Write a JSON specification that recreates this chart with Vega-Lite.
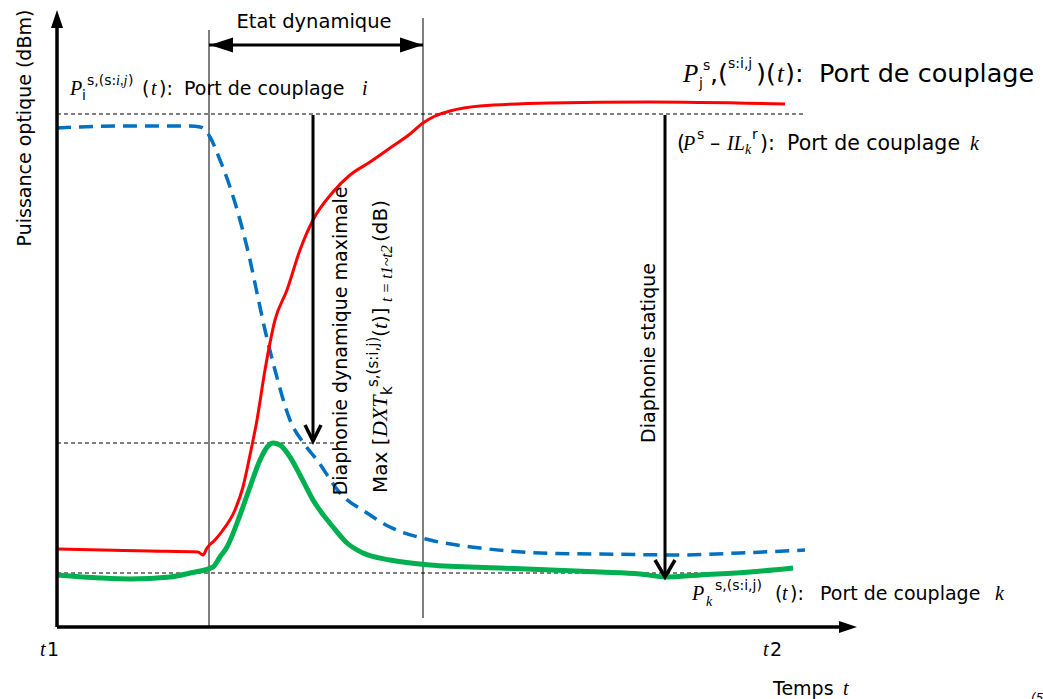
{
 "$schema": "https://vega.github.io/schema/vega-lite/v6.json",
 "width": 1043, "height": 699, "padding": 0, "autosize": {"type": "none"},
 "background": "white",
 "config": {"view": {"stroke": null}},
 "datasets": {
  "refs_dashed": [
   {"x": 0, "y": 513, "x2": 746, "y2": 513},
   {"x": 0, "y": 184, "x2": 283, "y2": 184},
   {"x": 0, "y": 54, "x2": 653, "y2": 54}
  ],
  "refs_thin": [
   {"x": 152, "y": 0, "x2": 152, "y2": 597},
   {"x": 366, "y": 9, "x2": 366, "y2": 609}
  ],
  "axes": [
   {"x": 0, "y": 0, "x2": 0, "y2": 608},
   {"x": 0, "y": 0, "x2": 791, "y2": 0}
  ],
  "shafts": [
   {"x": 256, "y": 512, "x2": 256, "y2": 188},
   {"x": 608, "y": 512, "x2": 608, "y2": 51},
   {"x": 152, "y": 582, "x2": 366, "y2": 582}
  ],
  "head_up": [{"x": 0, "y": 608}],
  "head_right": [{"x": 791, "y": 0}],
  "head_left_small": [{"x": 164.5, "y": 582}],
  "head_right_small": [{"x": 354.5, "y": 582}],
  "chevrons": [
   {"id": "a", "x": 248, "y": 202}, {"id": "a", "x": 256, "y": 186}, {"id": "a", "x": 264, "y": 202},
   {"id": "b", "x": 598, "y": 67}, {"id": "b", "x": 608, "y": 50}, {"id": "b", "x": 618, "y": 67}
  ],
  "curves": [
   {"series": "blue", "x": 0, "y": 499}, {"series": "blue", "x": 63, "y": 501}, {"series": "blue", "x": 133, "y": 501},
   {"series": "blue", "x": 143, "y": 500}, {"series": "blue", "x": 148, "y": 497}, {"series": "blue", "x": 153, "y": 490},
   {"series": "blue", "x": 163, "y": 467}, {"series": "blue", "x": 173, "y": 440}, {"series": "blue", "x": 183, "y": 407},
   {"series": "blue", "x": 193, "y": 367}, {"series": "blue", "x": 200, "y": 334}, {"series": "blue", "x": 208, "y": 297},
   {"series": "blue", "x": 218, "y": 257}, {"series": "blue", "x": 233, "y": 207}, {"series": "blue", "x": 248, "y": 182},
   {"series": "blue", "x": 260, "y": 167}, {"series": "blue", "x": 283, "y": 134}, {"series": "blue", "x": 310, "y": 114},
   {"series": "blue", "x": 333, "y": 100}, {"series": "blue", "x": 373, "y": 87}, {"series": "blue", "x": 423, "y": 79},
   {"series": "blue", "x": 483, "y": 74}, {"series": "blue", "x": 543, "y": 73}, {"series": "blue", "x": 623, "y": 72},
   {"series": "blue", "x": 683, "y": 74}, {"series": "blue", "x": 748, "y": 77},
   {"series": "red", "x": 1, "y": 78}, {"series": "red", "x": 93, "y": 76}, {"series": "red", "x": 141, "y": 75},
   {"series": "red", "x": 146, "y": 72}, {"series": "red", "x": 150, "y": 79}, {"series": "red", "x": 158, "y": 87},
   {"series": "red", "x": 166, "y": 97}, {"series": "red", "x": 178, "y": 117}, {"series": "red", "x": 186, "y": 140},
   {"series": "red", "x": 193, "y": 172}, {"series": "red", "x": 200, "y": 207}, {"series": "red", "x": 208, "y": 257},
   {"series": "red", "x": 218, "y": 307}, {"series": "red", "x": 230, "y": 337}, {"series": "red", "x": 243, "y": 377},
   {"series": "red", "x": 256, "y": 407}, {"series": "red", "x": 276, "y": 435}, {"series": "red", "x": 293, "y": 452},
   {"series": "red", "x": 313, "y": 465}, {"series": "red", "x": 333, "y": 479}, {"series": "red", "x": 353, "y": 493},
   {"series": "red", "x": 366, "y": 504}, {"series": "red", "x": 378, "y": 511}, {"series": "red", "x": 393, "y": 516},
   {"series": "red", "x": 423, "y": 521}, {"series": "red", "x": 493, "y": 524}, {"series": "red", "x": 593, "y": 525},
   {"series": "red", "x": 728, "y": 523},
   {"series": "green", "x": 0, "y": 52}, {"series": "green", "x": 43, "y": 49}, {"series": "green", "x": 73, "y": 48},
   {"series": "green", "x": 113, "y": 50}, {"series": "green", "x": 133, "y": 54}, {"series": "green", "x": 156, "y": 60},
   {"series": "green", "x": 163, "y": 70}, {"series": "green", "x": 170, "y": 80}, {"series": "green", "x": 183, "y": 112},
   {"series": "green", "x": 193, "y": 140}, {"series": "green", "x": 203, "y": 167}, {"series": "green", "x": 211, "y": 181},
   {"series": "green", "x": 216, "y": 184}, {"series": "green", "x": 223, "y": 182}, {"series": "green", "x": 233, "y": 170},
   {"series": "green", "x": 243, "y": 152}, {"series": "green", "x": 256, "y": 127}, {"series": "green", "x": 276, "y": 100},
   {"series": "green", "x": 290, "y": 84}, {"series": "green", "x": 306, "y": 74}, {"series": "green", "x": 333, "y": 67},
   {"series": "green", "x": 373, "y": 62}, {"series": "green", "x": 443, "y": 59}, {"series": "green", "x": 543, "y": 55},
   {"series": "green", "x": 583, "y": 53}, {"series": "green", "x": 610, "y": 50}, {"series": "green", "x": 643, "y": 52},
   {"series": "green", "x": 693, "y": 55}, {"series": "green", "x": 736, "y": 59}
  ],
  "sansL": [
   {"x": 653, "y": 545, "label": ",("},
   {"x": 699, "y": 545, "label": ")("},
   {"x": 728, "y": 545, "label": "):"},
   {"x": 762, "y": 545, "label": "Port de couplage"}
  ],
  "sansM": [
   {"x": 85, "y": 532, "label": "("}, {"x": 102, "y": 532, "label": "):"}, {"x": 127, "y": 532, "label": "Port de couplage"},
   {"x": 718, "y": 27, "label": "("}, {"x": 733, "y": 27, "label": "):"}, {"x": 763, "y": 27, "label": "Port de couplage"},
   {"x": -10, "y": -29, "label": "1"}, {"x": 713, "y": -29, "label": "2"}, {"x": 716, "y": -68, "label": "Temps"}
  ],
  "sansC": [
   {"x": 620, "y": 477, "label": "("}, {"x": 653, "y": 477, "label": "–"}, {"x": 703, "y": 477, "label": "):"}, {"x": 730, "y": 477, "label": "Port de couplage"}
  ],
  "serifL": [
   {"x": 626, "y": 545, "label": "P"}, {"x": 720, "y": 545, "label": "t"}
  ],
  "serifM": [
   {"x": 13, "y": 532, "label": "P"}, {"x": 94, "y": 532, "label": "t"}, {"x": 305, "y": 532, "label": "i"},
   {"x": 626, "y": 477, "label": "P"}, {"x": 670, "y": 477, "label": "IL"}, {"x": 913, "y": 477, "label": "k"},
   {"x": 635, "y": 27, "label": "P"}, {"x": 725, "y": 27, "label": "t"}, {"x": 938, "y": 27, "label": "k"},
   {"x": -17, "y": -29, "label": "t"}, {"x": 706, "y": -29, "label": "t"}, {"x": 786, "y": -68, "label": "t"}
  ],
  "sansS": [
   {"x": 25, "y": 527, "label": "i"}, {"x": 30, "y": 542, "label": "s,(s:"}, {"x": 71, "y": 542, "label": ")"},
   {"x": 642, "y": 539, "label": "j"}, {"x": 646, "y": 557, "label": "s"}, {"x": 671, "y": 559, "label": "s:i,j"},
   {"x": 640, "y": 488, "label": "s"}, {"x": 695, "y": 488, "label": "r"},
   {"x": 658, "y": 37, "label": "s,(s:i,j)"}
  ],
  "serifS": [
   {"x": 59, "y": 542, "label": "i,j"}, {"x": 688, "y": 473, "label": "k"}, {"x": 649, "y": 21, "label": "k"}
  ],
  "rotSansM": [
   {"x": 330, "y": 134, "label": "Max ["}, {"x": 330, "y": 290, "label": "("}, {"x": 330, "y": 304, "label": ")]"}, {"x": 330, "y": 385, "label": "(dB)"}
  ],
  "rotSerifM": [
   {"x": 330, "y": 190, "label": "DXT"}, {"x": 330, "y": 298, "label": "t"}
  ],
  "rotSansS": [
   {"x": 335, "y": 232, "label": "k"}, {"x": 321, "y": 240, "label": "s,(s:i,j)"}
  ],
  "rotSerifS": [
   {"x": 335, "y": 325, "label": "t = t1~t2"}
  ],
  "rotCenter": [
   {"x": 290, "y": 286, "label": "Diaphonie dynamique maximale"},
   {"x": 598, "y": 274, "label": "Diaphonie statique"},
   {"x": -26, "y": 499, "label": "Puissance optique (dBm)"}
  ],
  "centerText": [
   {"x": 257, "y": 599, "label": "Etat dynamique"}
  ],
  "tiny": [
   {"x": 974, "y": -75, "label": "(5"}
  ]
 },
 "encoding": {
  "x": {"field": "x", "type": "quantitative", "scale": {"domain": [-57, 986], "nice": false, "zero": false}, "axis": null},
  "y": {"field": "y", "type": "quantitative", "scale": {"domain": [-72, 627], "nice": false, "zero": false}, "axis": null}
 },
 "layer": [
  {"data": {"name": "refs_dashed"}, "mark": {"type": "rule", "color": "#000", "strokeWidth": 1, "strokeDash": [4, 3]},
   "encoding": {"x2": {"field": "x2"}, "y2": {"field": "y2"}}},
  {"data": {"name": "refs_thin"}, "mark": {"type": "rule", "color": "#000", "strokeWidth": 1},
   "encoding": {"x2": {"field": "x2"}, "y2": {"field": "y2"}}},
  {"data": {"name": "curves"}, "transform": [{"filter": "datum.series === 'blue'"}],
   "mark": {"type": "line", "color": "#0070C0", "strokeWidth": 3.5, "strokeDash": [14, 8], "interpolate": "monotone"}, "encoding": {}},
  {"data": {"name": "curves"}, "transform": [{"filter": "datum.series === 'red'"}],
   "mark": {"type": "line", "color": "#FF0000", "strokeWidth": 3, "interpolate": "monotone"}, "encoding": {}},
  {"data": {"name": "curves"}, "transform": [{"filter": "datum.series === 'green'"}],
   "mark": {"type": "line", "color": "#00B050", "strokeWidth": 5, "interpolate": "monotone"}, "encoding": {}},
  {"data": {"name": "axes"}, "mark": {"type": "rule", "color": "#000", "strokeWidth": 3.5},
   "encoding": {"x2": {"field": "x2"}, "y2": {"field": "y2"}}},
  {"data": {"name": "shafts"}, "mark": {"type": "rule", "color": "#000", "strokeWidth": 3},
   "encoding": {"x2": {"field": "x2"}, "y2": {"field": "y2"}}},
  {"data": {"name": "chevrons"}, "mark": {"type": "line", "color": "#000", "strokeWidth": 3.5, "strokeJoin": "miter"},
   "encoding": {"detail": {"field": "id"}}},
  {"data": {"name": "head_up"}, "mark": {"type": "point", "shape": "M0,-1L0.67,1L-0.67,1Z", "size": 324, "filled": true, "color": "#000", "opacity": 1, "strokeWidth": 0}},
  {"data": {"name": "head_right"}, "mark": {"type": "point", "shape": "M1,0L-1,-0.67L-1,0.67Z", "size": 324, "filled": true, "color": "#000", "opacity": 1, "strokeWidth": 0}},
  {"data": {"name": "head_left_small"}, "mark": {"type": "point", "shape": "M-1,0L1,-0.65L1,0.65Z", "size": 529, "filled": true, "color": "#000", "opacity": 1, "strokeWidth": 0}},
  {"data": {"name": "head_right_small"}, "mark": {"type": "point", "shape": "M1,0L-1,-0.65L-1,0.65Z", "size": 529, "filled": true, "color": "#000", "opacity": 1, "strokeWidth": 0}},
  {"data": {"name": "sansL"}, "mark": {"type": "text", "align": "left", "baseline": "alphabetic", "font": "DejaVu Sans", "fontSize": 25.5, "color": "#000"},
   "encoding": {"text": {"field": "label", "type": "nominal"}}},
  {"data": {"name": "sansM"}, "mark": {"type": "text", "align": "left", "baseline": "alphabetic", "font": "DejaVu Sans", "fontSize": 19, "color": "#000"},
   "encoding": {"text": {"field": "label", "type": "nominal"}}},
  {"data": {"name": "sansC"}, "mark": {"type": "text", "align": "left", "baseline": "alphabetic", "font": "DejaVu Sans", "fontSize": 20.5, "color": "#000"},
   "encoding": {"text": {"field": "label", "type": "nominal"}}},
  {"data": {"name": "sansS"}, "mark": {"type": "text", "align": "left", "baseline": "alphabetic", "font": "DejaVu Sans", "fontSize": 14, "color": "#000"},
   "encoding": {"text": {"field": "label", "type": "nominal"}}},
  {"data": {"name": "serifL"}, "mark": {"type": "text", "align": "left", "baseline": "alphabetic", "font": "Liberation Serif", "fontStyle": "italic", "fontSize": 25, "color": "#000"},
   "encoding": {"text": {"field": "label", "type": "nominal"}}},
  {"data": {"name": "serifM"}, "mark": {"type": "text", "align": "left", "baseline": "alphabetic", "font": "Liberation Serif", "fontStyle": "italic", "fontSize": 20, "color": "#000"},
   "encoding": {"text": {"field": "label", "type": "nominal"}}},
  {"data": {"name": "serifS"}, "mark": {"type": "text", "align": "left", "baseline": "alphabetic", "font": "Liberation Serif", "fontStyle": "italic", "fontSize": 14, "color": "#000"},
   "encoding": {"text": {"field": "label", "type": "nominal"}}},
  {"data": {"name": "rotSansM"}, "mark": {"type": "text", "angle": 270, "align": "left", "baseline": "alphabetic", "font": "DejaVu Sans", "fontSize": 20, "color": "#000"},
   "encoding": {"text": {"field": "label", "type": "nominal"}}},
  {"data": {"name": "rotSerifM"}, "mark": {"type": "text", "angle": 270, "align": "left", "baseline": "alphabetic", "font": "Liberation Serif", "fontStyle": "italic", "fontSize": 22, "color": "#000"},
   "encoding": {"text": {"field": "label", "type": "nominal"}}},
  {"data": {"name": "rotSansS"}, "mark": {"type": "text", "angle": 270, "align": "left", "baseline": "alphabetic", "font": "DejaVu Sans", "fontSize": 15, "color": "#000"},
   "encoding": {"text": {"field": "label", "type": "nominal"}}},
  {"data": {"name": "rotSerifS"}, "mark": {"type": "text", "angle": 270, "align": "left", "baseline": "alphabetic", "font": "Liberation Serif", "fontStyle": "italic", "fontSize": 16, "color": "#000"},
   "encoding": {"text": {"field": "label", "type": "nominal"}}},
  {"data": {"name": "rotCenter"}, "mark": {"type": "text", "angle": 270, "align": "center", "baseline": "alphabetic", "font": "DejaVu Sans", "fontSize": 19, "color": "#000"},
   "encoding": {"text": {"field": "label", "type": "nominal"}}},
  {"data": {"name": "centerText"}, "mark": {"type": "text", "align": "center", "baseline": "alphabetic", "font": "DejaVu Sans", "fontSize": 19.5, "color": "#000"},
   "encoding": {"text": {"field": "label", "type": "nominal"}}},
  {"data": {"name": "tiny"}, "mark": {"type": "text", "align": "left", "baseline": "alphabetic", "font": "DejaVu Sans", "fontStyle": "italic", "fontSize": 12, "color": "#000"},
   "encoding": {"text": {"field": "label", "type": "nominal"}}}
 ]
}
